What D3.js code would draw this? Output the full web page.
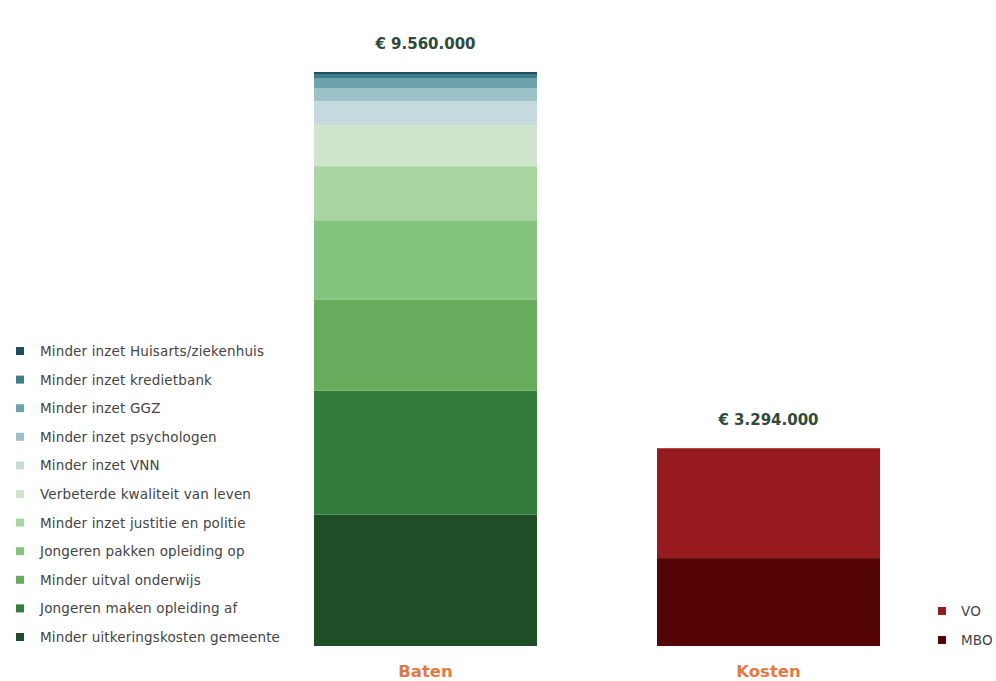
<!DOCTYPE html>
<html>
<head>
<meta charset="UTF-8">
<title>Baten en kosten</title>
<script src="https://d3js.org/d3.v7.min.js"></script>
<style>
  body { margin: 0; background: #fff; }
  svg { display: block; }
</style>
</head>
<body>
<svg id="svg" width="996" height="681"></svg>
<script>

// categorieën van onder naar boven
var batenLabels = ["Minder uitkeringskosten gemeente", "Jongeren maken opleiding af", "Minder uitval onderwijs",
  "Jongeren pakken opleiding op", "Minder inzet justitie en politie", "Verbeterde kwaliteit van leven",
  "Minder inzet VNN", "Minder inzet psychologen", "Minder inzet GGZ", "Minder inzet kredietbank",
  "Minder inzet Huisarts/ziekenhuis"];
var batenValues = [2186000, 2069000, 1518000, 1318000, 901000, 684000, 400000, 217000, 167000, 67000, 33000];
var batenColors = ["#1f4d25", "#327d3c", "#68ab5c", "#84c47f", "#a8d5a0", "#cfe6cc",
  "#c5dbe0", "#9dc3c9", "#6fa3ac", "#3f7f8c", "#1f4e5a"];

var kostenLabels = ["MBO", "VO"];
var kostenValues = [1464000, 1830000];
var kostenColors = ["#540404", "#961a1e"];

var groups = ["Baten", "Kosten"];
var totals = ["€ 9.560.000", "€ 3.294.000"];

var svg = d3.select("svg");

var y = d3.scaleLinear()
  .domain([0, 9560000])
  .range([646, 72]);

var x = d3.scaleBand()
  .domain(groups)
  .range([314, 880])
  .paddingInner(120 / 343);

function drawStack(group, values, colors) {
  var y0 = 0;
  values.forEach(function (v, i) {
    svg.append("rect")
      .attr("x", x(group))
      .attr("width", x.bandwidth())
      .attr("y", y(y0 + v))
      .attr("height", y(y0) - y(y0 + v))
      .style("fill", colors[i]);
    y0 += v;
  });
  return y0;
}

var sums = [drawStack("Baten", batenValues, batenColors),
            drawStack("Kosten", kostenValues, kostenColors)];

groups.forEach(function (g, i) {
  svg.append("text")
    .attr("x", x(g) + x.bandwidth() / 2)
    .attr("y", y(sums[i]) - 23)
    .attr("text-anchor", "middle")
    .style("font-family", "DejaVu Sans")
    .style("font-weight", "bold")
    .style("font-size", "15px")
    .style("fill", "#2e4a3a")
    .text(totals[i]);

  svg.append("text")
    .attr("x", x(g) + x.bandwidth() / 2)
    .attr("y", 677)
    .attr("text-anchor", "middle")
    .style("font-family", "DejaVu Sans")
    .style("font-weight", "bold")
    .style("font-size", "16.5px")
    .style("fill", "#e07a45")
    .text(g);
});

// legenda links, bovenste categorie eerst
var legendBaten = batenLabels.slice().reverse();
var legendBatenColors = batenColors.slice().reverse();
legendBaten.forEach(function (d, i) {
  svg.append("rect")
    .attr("x", 16)
    .attr("y", i * 28.6 + 347)
    .attr("width", 8)
    .attr("height", 8)
    .style("fill", legendBatenColors[i]);
  svg.append("text")
    .attr("x", 40)
    .attr("y", i * 28.6 + 356)
    .style("font-family", "DejaVu Sans")
    .style("font-size", "13.5px")
    .style("letter-spacing", "0.15px")
    .style("fill", "#444")
    .text(d);
});

// legenda rechts
var legendKosten = kostenLabels.slice().reverse();
var legendKostenColors = kostenColors.slice().reverse();
legendKosten.forEach(function (d, i) {
  svg.append("rect")
    .attr("x", 938)
    .attr("y", i * 29 + 607)
    .attr("width", 8)
    .attr("height", 8)
    .style("fill", legendKostenColors[i]);
  svg.append("text")
    .attr("x", 961)
    .attr("y", i * 29 + 616)
    .style("font-family", "DejaVu Sans")
    .style("font-size", "13.5px")
    .style("letter-spacing", "0.15px")
    .style("fill", "#444")
    .text(d);
});

</script>
</body>
</html>
